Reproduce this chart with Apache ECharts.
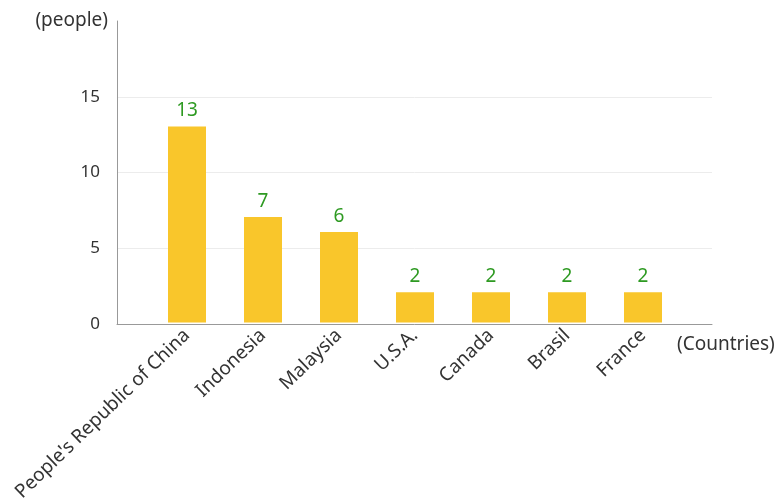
<!DOCTYPE html>
<html>
<head>
<meta charset="utf-8">
<script src="https://cdn.jsdelivr.net/npm/echarts@6/dist/echarts.min.js"></script>
<style>
  html, body { margin: 0; padding: 0; background: #fff; }
  #main { width: 779px; height: 504px; }
</style>
</head>
<body>
<div id="main"></div>
<script>
var countries = ["People's Republic of China", 'Indonesia', 'Malaysia', 'U.S.A.', 'Canada', 'Brasil', 'France'];
var people = [13, 7, 6, 2, 2, 2, 2];
var yMax = 20;
var yStep = 5;

var font = 'Noto Sans';
var myChart = echarts.init(document.getElementById('main'));

option = {
    backgroundColor: '#fff',
    textStyle: { fontFamily: font },
    grid: [
        // bars
        { left: 149, right: 98, top: 21, bottom: 180 },
        // frame: axis lines + split lines
        { left: 117, right: 67, top: 21, bottom: 180 }
    ],
    xAxis: [
        {
            gridIndex: 0,
            type: 'category',
            data: countries,
            axisLine: { show: false },
            axisTick: { show: false },
            axisLabel: {
                rotate: 44,
                margin: 10,
                interval: 0,
                color: '#333',
                fontSize: 19,
                fontFamily: font
            }
        },
        {
            gridIndex: 1,
            type: 'value',
            min: 0,
            max: 1,
            axisLine: { show: true, lineStyle: { color: '#999', width: 1 } },
            axisTick: { show: false },
            axisLabel: { show: false },
            splitLine: { show: false },
            name: '(Countries)',
            nameLocation: 'end',
            nameGap: -35,
            nameTextStyle: {
                color: '#333',
                fontSize: 19,
                fontFamily: font,
                align: 'left',
                verticalAlign: 'top',
                padding: [11, 0, 0, 0]
            }
        }
    ],
    yAxis: [
        {
            gridIndex: 0,
            type: 'value',
            min: 0,
            max: yMax,
            show: false
        },
        {
            gridIndex: 1,
            type: 'value',
            min: 0,
            max: yMax,
            interval: yStep,
            axisLine: { show: true, lineStyle: { color: '#999', width: 1 } },
            axisTick: { show: false },
            axisLabel: {
                showMaxLabel: false,
                color: '#333',
                fontSize: 17,
                margin: 17,
                fontFamily: font
            },
            splitLine: {
                show: true,
                showMaxLine: false,
                lineStyle: { color: '#ececec', width: 1 }
            },
            name: '(people)',
            nameLocation: 'end',
            nameGap: 0,
            nameTextStyle: {
                color: '#333',
                fontSize: 19,
                fontFamily: font,
                align: 'right',
                verticalAlign: 'middle',
                padding: [4, 9, 0, 0]
            }
        }
    ],
    series: [
        {
            name: 'people',
            type: 'bar',
            xAxisIndex: 0,
            yAxisIndex: 0,
            data: people,
            barWidth: 38,
            itemStyle: { color: '#F9C62B' },
            label: {
                show: true,
                position: 'top',
                distance: 6,
                color: '#2e9a22',
                fontSize: 19,
                fontFamily: font
            }
        }
    ]
};

myChart.setOption(option);
</script>
</body>
</html>
